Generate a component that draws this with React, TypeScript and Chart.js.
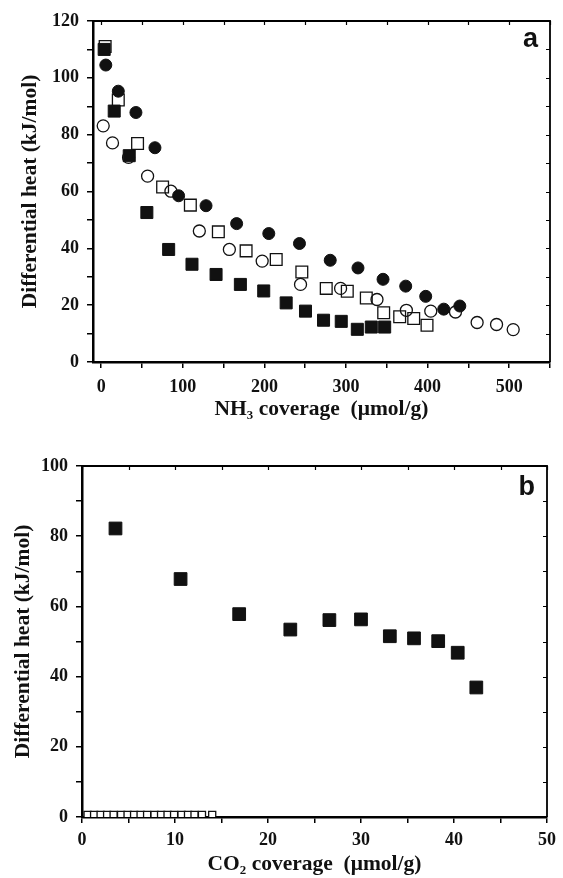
import React, { useEffect, useRef } from 'react';
import { Chart, registerables } from 'chart.js';

Chart.register(...registerables);

// ---------- Panel a: NH3 adsorption ----------
const aFilledSquareX = [3.7, 16, 34.4, 56, 82.7, 111.3, 140.8, 170.6, 199.2, 226.7, 250.4, 272.5, 294.2, 313.9, 331, 347.4];
const aFilledSquareY = [110, 88.3, 72.6, 52.6, 39.6, 34.4, 30.8, 27.3, 25.0, 20.8, 17.9, 14.7, 14.3, 11.5, 12.3, 12.3];

const aFilledCircleX = [5.7, 21, 42.6, 65.9, 94.9, 128.5, 166, 205.4, 243, 280.7, 314.7, 345.4, 373.2, 397.7, 419.8, 439.5];
const aFilledCircleY = [104.5, 95.3, 87.8, 75.4, 58.5, 55, 48.7, 45.2, 41.7, 35.8, 33.1, 29.1, 26.7, 23.1, 18.6, 19.7];

const aOpenCircleX = [2.5, 13.9, 33.6, 56.9, 85.5, 120.3, 157.1, 197.3, 244.3, 293.4, 338, 374, 403.9, 434.2, 460.7, 484.5, 504.9];
const aOpenCircleY = [83.1, 77.1, 72.0, 65.4, 60.1, 46.1, 39.6, 35.5, 27.3, 25.9, 22.0, 18.2, 17.9, 17.6, 13.9, 13.2, 11.4];

const aOpenSquareX = [4.9, 21, 44.6, 75.3, 109.3, 143.6, 177.6, 214.5, 245.9, 275.8, 301.6, 324.9, 346.2, 365.8, 383, 399.3];
const aOpenSquareY = [111, 92.2, 76.9, 61.6, 55.2, 45.8, 39.1, 36.1, 31.7, 25.9, 24.9, 22.5, 17.3, 15.9, 15.3, 12.9];

const aXTicks = [0, 50, 100, 150, 200, 250, 300, 350, 400, 450, 500, 550];
const aYTicks = [0, 10, 20, 30, 40, 50, 60, 70, 80, 90, 100, 110, 120];

// ---------- Panel b: CO2 adsorption ----------
const bFilledSquareX = [3.6, 10.6, 16.9, 22.4, 26.6, 30.0, 33.1, 35.7, 38.3, 40.4, 42.4];
const bFilledSquareY = [82.2, 67.8, 57.8, 53.4, 56.1, 56.3, 51.5, 50.9, 50.1, 46.8, 36.9];

const bOpenSquareX = [0.6, 1.3, 2.0, 2.7, 3.4, 4.2, 4.9, 5.6, 6.3, 7.0, 7.8, 8.5, 9.2, 9.9, 10.7, 11.4, 12.1, 12.9, 14.0];
const bOpenSquareY = [0.6, 0.6, 0.6, 0.6, 0.6, 0.6, 0.6, 0.6, 0.6, 0.6, 0.6, 0.6, 0.6, 0.6, 0.6, 0.6, 0.6, 0.6, 0.6];

const bXTicks = [0, 5, 10, 15, 20, 25, 30, 35, 40, 45, 50];
const bYTicks = [0, 10, 20, 30, 40, 50, 60, 70, 80, 90, 100];

const SERIF = '"Liberation Serif", "Times New Roman", serif';

const pts = (xs: number[], ys: number[]) => xs.map((x, i) => ({ x, y: ys[i] }));

const framePlugin = (letter: string, dx: number, dy: number) => ({
  id: 'frame' + letter,
  afterDraw(chart: any) {
    const { ctx, chartArea, scales } = chart;
    const { left, right, top, bottom } = chartArea;
    ctx.save();
    ctx.strokeStyle = '#000';
    ctx.lineWidth = 1.8;
    ctx.beginPath();
    ctx.moveTo(left, top);
    ctx.lineTo(right, top);
    ctx.lineTo(right, bottom);
    ctx.stroke();
    ctx.lineWidth = 1.2;
    ctx.beginPath();
    scales.x.ticks.forEach((t: any) => {
      const px = Math.round(scales.x.getPixelForValue(t.value)) + 0.5;
      ctx.moveTo(px, top);
      ctx.lineTo(px, top + 4);
    });
    scales.y.ticks.forEach((t: any) => {
      const py = Math.round(scales.y.getPixelForValue(t.value)) + 0.5;
      ctx.moveTo(right, py);
      ctx.lineTo(right - 4, py);
    });
    ctx.stroke();
    ctx.fillStyle = '#111';
    ctx.font = 'bold 27px "Liberation Sans", Arial, sans-serif';
    ctx.textAlign = 'right';
    ctx.textBaseline = 'alphabetic';
    ctx.fillText(letter, right - dx, top + dy);
    ctx.restore();
  },
});

function makeConfig(opts: {
  datasets: any[];
  xMin: number; xMax: number; xTicks: number[]; xLabelEvery: number;
  yMin: number; yMax: number; yTicks: number[]; yLabelEvery: number;
  xTitle: string; yTitle: string;
  yAxisWidth: number; xAxisHeight: number; padTop: number; padRight: number;
  yTitlePad: number; xTitlePad: number; xTickPad: number;
  plugin: any;
}) {
  const tickFont = { family: SERIF, size: 18, weight: 'bold' as const };
  const titleFont = { family: SERIF, size: 21.5, weight: 'bold' as const, lineHeight: 1 };
  return {
    type: 'scatter' as const,
    data: { datasets: opts.datasets },
    options: {
      responsive: false,
      animation: false as const,
      devicePixelRatio: 1,
      layout: { padding: { left: 0, right: opts.padRight, top: opts.padTop, bottom: 0 } },
      plugins: { legend: { display: false }, tooltip: { enabled: false } },
      scales: {
        x: {
          type: 'linear' as const,
          position: 'bottom' as const,
          min: opts.xMin,
          max: opts.xMax,
          afterBuildTicks: (s: any) => { s.ticks = opts.xTicks.map((v) => ({ value: v })); },
          afterFit: (s: any) => { s.height = opts.xAxisHeight; },
          ticks: {
            color: '#111',
            font: tickFont,
            padding: opts.xTickPad,
            maxRotation: 0,
            autoSkip: false,
            callback: (v: any) => (Number(v) % opts.xLabelEvery === 0 ? String(v) : ''),
          },
          grid: { drawOnChartArea: false, drawTicks: true, tickLength: 6, color: '#000', lineWidth: 1.5 },
          border: { display: true, color: '#000', width: 2.5 },
          title: { display: true, text: opts.xTitle, color: '#111', font: titleFont, padding: { top: 0, bottom: opts.xTitlePad } },
        },
        y: {
          type: 'linear' as const,
          position: 'left' as const,
          min: opts.yMin,
          max: opts.yMax,
          afterBuildTicks: (s: any) => { s.ticks = opts.yTicks.map((v) => ({ value: v })); },
          afterFit: (s: any) => { s.width = opts.yAxisWidth; },
          ticks: {
            color: '#111',
            font: tickFont,
            padding: 8,
            autoSkip: false,
            callback: (v: any) => (Number(v) % opts.yLabelEvery === 0 ? String(v) : ''),
          },
          grid: { drawOnChartArea: false, drawTicks: true, tickLength: 6, color: '#000', lineWidth: 1.5 },
          border: { display: true, color: '#000', width: 2.5 },
          title: { display: true, text: opts.yTitle, color: '#111', font: titleFont, padding: { top: opts.yTitlePad, bottom: 0 } },
        },
      },
    },
    plugins: [opts.plugin],
  };
}

const filled = (data: any[], style: string, radius: number) => ({
  data,
  pointStyle: style,
  pointRadius: radius,
  backgroundColor: '#111',
  borderColor: '#111',
  borderWidth: 1,
  showLine: false,
});

const open = (data: any[], style: string, radius: number, fill = 'rgba(0,0,0,0)') => ({
  data,
  pointStyle: style,
  pointRadius: radius,
  backgroundColor: fill,
  borderColor: '#111',
  borderWidth: 1.3,
  showLine: false,
});

export default function App() {
  const refA = useRef<HTMLCanvasElement>(null);
  const refB = useRef<HTMLCanvasElement>(null);

  useEffect(() => {
    document.body.style.margin = '0';
    const cfgA = makeConfig({
      datasets: [
        filled(pts(aFilledSquareX, aFilledSquareY), 'rect', 8.5),
        filled(pts(aFilledCircleX, aFilledCircleY), 'circle', 6),
        open(pts(aOpenSquareX, aOpenSquareY), 'rect', 8.3),
        open(pts(aOpenCircleX, aOpenCircleY), 'circle', 6),
      ],
      xMin: -10, xMax: 550, xTicks: aXTicks, xLabelEvery: 100,
      yMin: 0, yMax: 120, yTicks: aYTicks, yLabelEvery: 20,
      xTitle: 'NH\u2083 coverage  (\u03bcmol/g)',
      yTitle: 'Differential heat (kJ/mol)',
      yAxisWidth: 93, xAxisHeight: 58, padTop: 21, padRight: 13,
      yTitlePad: 19.5, xTitlePad: 0, xTickPad: 9,
      plugin: framePlugin('a', 12, 26),
    });
    const cfgB = makeConfig({
      datasets: [
        filled(pts(bFilledSquareX, bFilledSquareY), 'rect', 9),
        open(pts(bOpenSquareX, bOpenSquareY), 'rect', 5, '#fff'),
      ],
      xMin: 0, xMax: 50, xTicks: bXTicks, xLabelEvery: 10,
      yMin: 0, yMax: 100, yTicks: bYTicks, yLabelEvery: 20,
      xTitle: 'CO\u2082 coverage  (\u03bcmol/g)',
      yTitle: 'Differential heat (kJ/mol)',
      yAxisWidth: 82, xAxisHeight: 61, padTop: 46, padRight: 13,
      yTitlePad: 12.5, xTitlePad: 3, xTickPad: 7,
      plugin: framePlugin('b', 12, 29),
    });
    const ca = new Chart(refA.current as HTMLCanvasElement, cfgA as any);
    const cb = new Chart(refB.current as HTMLCanvasElement, cfgB as any);
    return () => {
      ca.destroy();
      cb.destroy();
    };
  }, []);

  return (
    <div style={{ width: 563, height: 878, background: '#fff' }}>
      <canvas ref={refA} width={563} height={420} style={{ display: 'block' }} />
      <canvas ref={refB} width={563} height={458} style={{ display: 'block' }} />
    </div>
  );
}
